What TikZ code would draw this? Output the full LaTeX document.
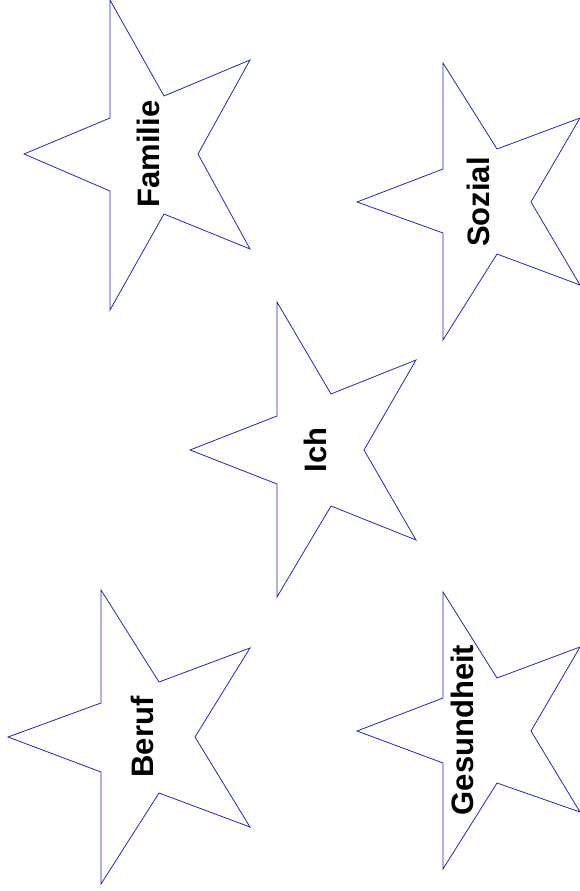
\documentclass[tikz,border=0pt]{standalone}
\usepackage{fontspec}
\setmainfont{Liberation Sans}
\definecolor{starblue}{RGB}{32,40,176}
\tikzset{
  starline/.style={draw=starblue, line width=0.8pt, line join=miter},
  lbl/.style={inner sep=0pt, rotate=90, font=\fontsize{31}{36}\selectfont\bfseries, text=black}
}
\begin{document}
\begin{tikzpicture}[x=1pt,y=-1pt]
\useasboundingbox (0,0) rectangle (580,891);
% Familie
\draw[starline] (110,0) -- (164,96) -- (250,60) -- (198,154) -- (250,249) -- (164,214) -- (110,310) -- (110,191) -- (24,154) -- (110,118) -- cycle;
\node[lbl] (familie) at (148,154) {Familie};
% Sozial
\draw[starline] (443,63) -- (497,149) -- (580,118) -- (531,202) -- (580,285) -- (497,254) -- (443,340) -- (443,233) -- (357,202) -- (443,169) -- cycle;
\node[lbl] (sozial) at (478,202) {Sozial};
% Ich
\draw[starline] (277,302) -- (331,394) -- (416,360) -- (364,450) -- (416,540) -- (331,506) -- (277,597) -- (277,484) -- (190,450) -- (277,416) -- cycle;
\node[lbl] (ich) at (315,450) {Ich};
% Beruf
\draw[starline] (101,590) -- (159,682) -- (250,648) -- (195,737) -- (250,827) -- (159,793) -- (101,884) -- (101,772) -- (8,737) -- (101,703) -- cycle;
\node[lbl] (beruf) at (142,737) {Beruf};
% Gesundheit
\draw[starline] (443,592) -- (497,678) -- (580,647) -- (531,731) -- (580,812) -- (497,783) -- (443,869) -- (443,763) -- (357,731) -- (443,698) -- cycle;
\node[lbl] (gesundheit) at (462,730) {Gesundheit};
\end{tikzpicture}
\end{document}
